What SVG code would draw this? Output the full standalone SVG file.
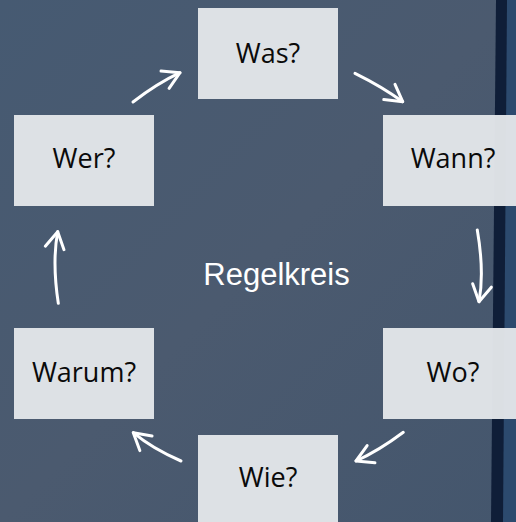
<svg xmlns="http://www.w3.org/2000/svg" width="516" height="522" viewBox="0 0 516 522">
  <defs>
    <linearGradient id="bg" x1="0" y1="0" x2="1" y2="1">
      <stop offset="0" stop-color="#465a72"/>
      <stop offset="0.5" stop-color="#4b5a6f"/>
      <stop offset="1" stop-color="#44566d"/>
    </linearGradient>
    <marker id="head" markerUnits="userSpaceOnUse" markerWidth="40" markerHeight="40" refX="0" refY="0" orient="auto" overflow="visible">
      <path d="M -16.5 -9.5 L 0 0 L -16.5 9.5" fill="none" stroke="#ffffff" stroke-width="3" stroke-linecap="round" stroke-linejoin="round"/>
    </marker>
  </defs>
  <style>
    .box { fill: #e2e5e9; fill-opacity: 0.97; }
    .lbl { font-family: "Open Sans", "Noto Sans", sans-serif; font-size: 27px; fill: #0a0a0a; text-anchor: middle; }
    .conn path { fill: none; stroke: #ffffff; stroke-width: 3; stroke-linecap: round; marker-end: url(#head); }
    .title { font-family: "Liberation Sans", Arial, sans-serif; font-size: 31px; fill: #ffffff; text-anchor: middle; }
  </style>
  <rect x="0" y="0" width="516" height="522" fill="url(#bg)"/>
  <polygon points="500,0 516,0 516,522 497,522" fill="#2c4a6e"/>
  <polygon points="496,0 507,0 503,522 491,522" fill="#0f1e38"/>

  <g id="node-was"><rect class="box" x="198" y="8" width="140" height="91"/><text class="lbl" x="268" y="63">Was?</text></g>
  <g id="node-wann"><rect class="box" x="383" y="115" width="140" height="91"/><text class="lbl" x="453" y="168">Wann?</text></g>
  <g id="node-wo"><rect class="box" x="383" y="328" width="140" height="91"/><text class="lbl" x="453" y="382">Wo?</text></g>
  <g id="node-wie"><rect class="box" x="198" y="435" width="140" height="91"/><text class="lbl" x="268" y="487">Wie?</text></g>
  <g id="node-warum"><rect class="box" x="14" y="328" width="140" height="91"/><text class="lbl" x="84" y="382">Warum?</text></g>
  <g id="node-wer"><rect class="box" x="14" y="115" width="140" height="91"/><text class="lbl" x="84" y="168">Wer?</text></g>

  <g id="center"><text class="title" x="276.5" y="285">Regelkreis</text></g>

  <g id="connectors" class="conn">
    <path d="M 133 102 Q 157.4 83.3 180 72.7"/>
    <path d="M 355 73.3 Q 382.5 86.9 402.7 101.7"/>
    <path d="M 477.3 230 Q 484.5 272 479 301.7"/>
    <path d="M 403.3 432.3 Q 378.8 450.7 356 461"/>
    <path d="M 181 461 Q 152.5 448.8 133.3 432.7"/>
    <path d="M 58.3 303.3 Q 52 262 57.7 231.7"/>
  </g>
</svg>
